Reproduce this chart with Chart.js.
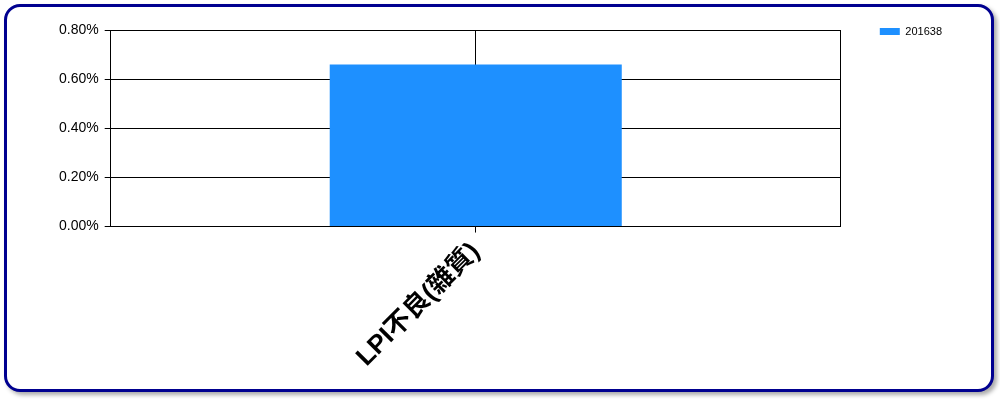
<!DOCTYPE html>
<html><head><meta charset="utf-8">
<script src="https://cdn.jsdelivr.net/npm/chart.js@4"></script>
<style>
html,body{margin:0;padding:0;background:#fff;}
#frame{position:absolute;left:4px;top:4px;width:984px;height:382px;border:3px solid #000090;border-radius:16px;box-shadow:3px 3px 4px #aaa;background:#fff;}
#wrap{position:absolute;left:0;top:0;width:1000px;height:400px;}
</style></head><body>
<div id="frame"></div>
<div id="wrap"><canvas id="c" width="1000" height="400"></canvas></div>
<script>
const categories = ["LPI不良(雜質)"];
const seriesName = "201638";
const seriesValues = [0.66];
const yTicks = [0, 0.2, 0.4, 0.6, 0.8];

new Chart(document.getElementById('c'), {
  type: 'bar',
  data: {
    labels: categories,
    datasets: [{
      label: seriesName,
      data: seriesValues,
      backgroundColor: '#1E90FF',
      borderWidth: 0,
      barPercentage: 0.4,
      categoryPercentage: 1.0
    }]
  },
  options: {
    responsive: false,
    animation: false,
    devicePixelRatio: 1,
    layout: { padding: { top: 22, left: 53, right: 48, bottom: 23 } },
    plugins: {
      legend: {
        position: 'right', align: 'start',
        labels: { boxWidth: 20, boxHeight: 7, color: '#000', font: { family: 'Liberation Sans, Arial', size: 11 }, padding: 4 }
      },
      tooltip: { enabled: false }
    },
    scales: {
      x: {
        grid: { offset: false, color: '#000', lineWidth: 1, drawTicks: true, tickLength: 6 },
        border: { display: true, color: '#000' },
        ticks: {
          color: '#000', maxRotation: 45, minRotation: 45, padding: 4,
          font: { family: 'Liberation Sans, "Noto Sans CJK TC", Arial', size: 26, weight: 'bold' }
        }
      },
      x2: {
        type: 'category', position: 'top',
        grid: { display: false },
        border: { display: false },
        ticks: { display: false },
        afterFit: (s) => { s.height = 8; }
      },
      y: {
        min: 0, max: 0.8,
        afterBuildTicks: (s) => { s.ticks = yTicks.map(v => ({ value: v })); },
        grid: { color: '#000', lineWidth: 1, tickLength: 6 },
        border: { display: true, color: '#000' },
        ticks: {
          color: '#000', padding: 6,
          font: { family: 'Liberation Sans, Arial', size: 14 },
          callback: (v) => Number(v).toFixed(2) + '%'
        }
      },
      y2: {
        position: 'right', min: 0, max: 0.8,
        grid: { display: false },
        border: { display: true, color: '#000' },
        ticks: { display: false },
        afterFit: (s) => { s.width += 27; }
      }
    }
  }
});
</script>
</body></html>
